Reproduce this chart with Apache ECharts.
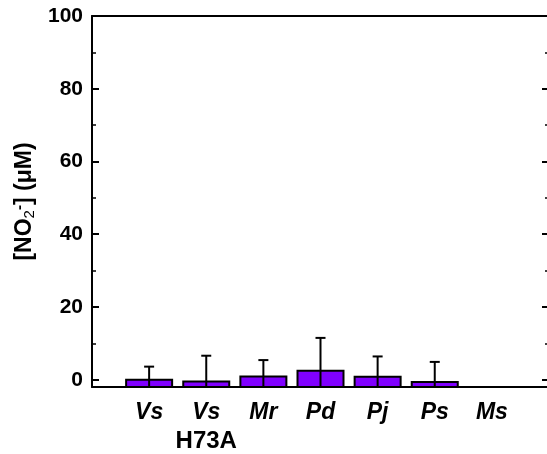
<!DOCTYPE html>
<html>
<head>
<meta charset="utf-8">
<script src="https://cdn.jsdelivr.net/npm/echarts@6/dist/echarts.min.js"></script>
<style>
  html, body { margin: 0; padding: 0; background: #fff; }
  #main { width: 547px; height: 454px; }
</style>
</head>
<body>
<div id="main"></div>
<script>
// 数据
var categories = ['', 'Vs', 'Vs', 'Mr', 'Pd', 'Pj', 'Ps', 'Ms', ''];
var subLabels = ['', '', 'H73A', '', '', '', '', '', ''];
var values = [null, 0.0, -0.5, 0.9, 2.5, 0.8, -0.6, null, null];
var errors = [null, 3.6, 7.1, 4.5, 9.0, 5.6, 5.5, null, null];
var majorTicks = [0, 20, 40, 60, 80, 100];
var minorTicks = [10, 30, 50, 70, 90];
var yMin = -2, yMax = 100;

var FONT = '"Liberation Sans", Arial, sans-serif';
var myChart = echarts.init(document.getElementById('main'));

var barData = [];
var errData = [];
values.forEach(function (v, i) {
    if (v !== null) {
        barData.push([i, v]);
        errData.push([i, v, errors[i]]);
    }
});

function renderBar(params, api) {
    var p0 = api.coord([api.value(0), yMin]);
    var p1 = api.coord([api.value(0), api.value(1)]);
    var w = 46;
    return {
        type: 'rect',
        shape: { x: p0[0] - w / 2, y: p1[1], width: w, height: p0[1] - p1[1] },
        style: { fill: '#8000ff', stroke: '#000', lineWidth: 2 }
    };
}

function renderErr(params, api) {
    var x = api.value(0), v = api.value(1), e = api.value(2);
    var top = api.coord([x, v + e]);
    var bot = api.coord([x, Math.max(v - e, yMin)]);
    var cw = 5;
    return {
        type: 'group',
        children: [
            { type: 'line', shape: { x1: top[0], y1: top[1], x2: bot[0], y2: bot[1] },
              style: { stroke: '#000', lineWidth: 2 } },
            { type: 'line', shape: { x1: top[0] - cw, y1: top[1], x2: top[0] + cw, y2: top[1] },
              style: { stroke: '#000', lineWidth: 2 } }
        ]
    };
}

var yBase = {
    type: 'value',
    min: yMin,
    max: yMax,
    splitLine: { show: false }
};

myChart.setOption({
    animation: false,
    grid: { left: 92, width: 457, top: 16, height: 371, outerBoundsMode: 'none', containLabel: false },
    xAxis: [{
        type: 'category',
        data: categories,
        boundaryGap: false,
        axisLine: { onZero: false, lineStyle: { color: '#000', width: 2 } },
        axisTick: { show: false },
        axisLabel: {
            interval: 0,
            margin: 12,
            formatter: function (val, i) {
                if (!val) return '';
                var s = '{it|' + val + '}';
                if (subLabels[i]) s += '\n{nm|' + subLabels[i] + '}';
                return s;
            },
            rich: {
                it: { fontFamily: FONT, fontSize: 23, fontWeight: 'bold', fontStyle: 'italic', color: '#000', lineHeight: 28 },
                nm: { fontFamily: FONT, fontSize: 24, fontWeight: 'bold', color: '#000', lineHeight: 28 }
            }
        }
    }, {
        type: 'category',
        data: categories,
        position: 'top',
        boundaryGap: false,
        axisLine: { onZero: false, lineStyle: { color: '#000', width: 2 } },
        axisTick: { show: false },
        axisLabel: { show: false }
    }],
    yAxis: [
        Object.assign({}, yBase, {
            position: 'left',
            name: '[NO{sub|2}{sup|-}] (μM)',
            nameLocation: 'middle',
            nameGap: 55,
            nameTextStyle: {
                fontFamily: FONT, fontSize: 23, fontWeight: 'bold', color: '#000',
                rich: {
                    sub: { fontFamily: FONT, fontSize: 15, fontWeight: 'normal', color: '#000', verticalAlign: 'bottom', padding: [10, 0, 0, 0] },
                    sup: { fontFamily: FONT, fontSize: 15, fontWeight: 'bold', color: '#000', verticalAlign: 'top', padding: [0, 0, 10, 0] }
                }
            },
            axisLine: { show: true, onZero: false, lineStyle: { color: '#000', width: 2 } },
            axisTick: { show: true, inside: true, length: 7, lineStyle: { color: '#000', width: 2 }, customValues: majorTicks },
            axisLabel: { margin: 9, fontFamily: FONT, fontSize: 21, fontWeight: 'bold', color: '#000', customValues: majorTicks }
        }),
        Object.assign({}, yBase, {
            position: 'right',
            axisLine: { show: true, onZero: false, lineStyle: { color: '#000', width: 2 } },
            axisTick: { show: true, inside: true, length: 7, lineStyle: { color: '#000', width: 2 }, customValues: majorTicks },
            axisLabel: { show: false }
        }),
        Object.assign({}, yBase, {
            position: 'left',
            axisLine: { show: false },
            axisTick: { show: true, inside: true, length: 4, lineStyle: { color: '#000', width: 1.5 }, customValues: minorTicks },
            axisLabel: { show: false }
        }),
        Object.assign({}, yBase, {
            position: 'right',
            axisLine: { show: false },
            axisTick: { show: true, inside: true, length: 4, lineStyle: { color: '#000', width: 1.5 }, customValues: minorTicks },
            axisLabel: { show: false }
        })
    ],
    series: [{
        type: 'custom',
        renderItem: renderBar,
        data: barData,
        encode: { x: 0, y: 1 },
        z: 2
    }, {
        type: 'custom',
        renderItem: renderErr,
        data: errData,
        encode: { x: 0, y: [1] },
        z: 3,
        clip: true
    }]
});
</script>
</body>
</html>
